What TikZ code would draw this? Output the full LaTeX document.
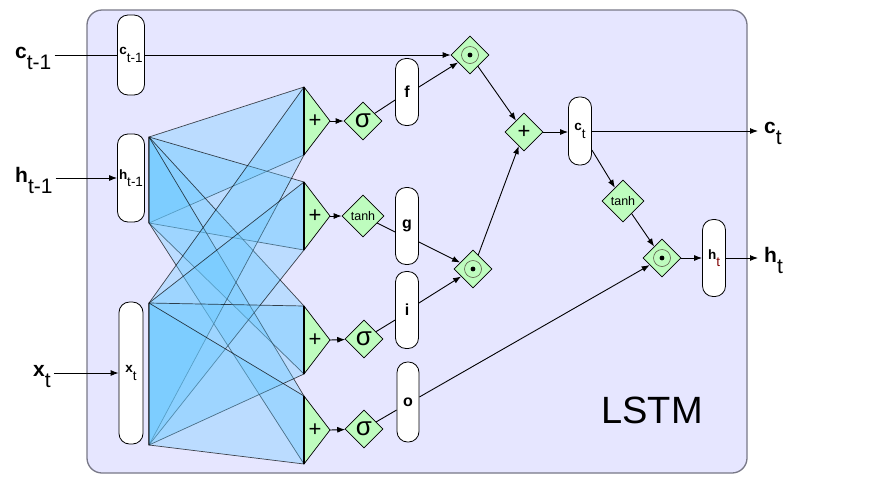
\documentclass[tikz,border=0pt]{standalone}
\usepackage{fontspec}
\setmainfont{Liberation Sans}
\usetikzlibrary{shapes.geometric,arrows.meta,calc}

\definecolor{boxfill}{RGB}{230,230,255}
\definecolor{boxline}{RGB}{120,120,135}
\definecolor{gatefill}{RGB}{190,252,190}
\definecolor{quadblue}{RGB}{100,200,255}
\definecolor{ringcol}{RGB}{90,90,70}

\newcommand{\vsub}[2]{{\bfseries #1}\raisebox{-0.55em}{#2}}

\begin{document}
\begin{tikzpicture}[x=1pt,y=-1pt,
  cellbox/.style={draw=boxline, line width=1.3pt, fill=boxfill, rounded corners=15pt, inner sep=0pt},
  pill/.style={draw=black, line width=0.8pt, fill=white, rounded corners=10.5pt, inner sep=0pt, font=\fontsize{13.5}{13.5}\selectfont},
  gatelbl/.style={draw=black, line width=0.8pt, fill=white, rounded corners=10.5pt, inner sep=0pt, font=\fontsize{16}{16}\selectfont\bfseries},
  gate/.style={diamond, aspect=1, draw=black, line width=0.7pt, fill=gatefill, inner sep=0pt, minimum width=38pt, minimum height=38pt},
  biggate/.style={gate, minimum width=42pt, minimum height=42pt},
  sig/.style={font=\fontsize{26}{26}\selectfont, inner sep=0pt},
  plusf/.style={font=\fontsize{22}{22}\selectfont, inner sep=0pt},
  tanhf/.style={font=\fontsize{12.5}{12.5}\selectfont, inner sep=0pt},
  outlbl/.style={font=\fontsize{21}{21}\selectfont, inner sep=0pt},
  quad/.style={fill=quadblue, fill opacity=0.33, draw=black, draw opacity=0.7, line width=0.7pt, line join=round},
  tri/.style={fill=gatefill, draw=black, line width=0.7pt, line join=round},
  conn/.style={line width=0.9pt},
  arr/.style={conn, -{Latex[length=8pt,width=6pt]}},
  ring/.style={draw=ringcol, line width=0.6pt}
]
\useasboundingbox (0,0) rectangle (870,483);

% outer cell
\node[cellbox, minimum width=660pt, minimum height=463pt] (cell) at (417,241.5) {};
\node[font=\fontsize{38}{38}\selectfont, inner sep=0pt] (title) at (652,410) {LSTM};

% blue weight quads
\foreach \st/\sb in {137/223, 303/445}{
  \foreach \tc in {121,216,340,430}{
    \path[quad] (149,\st) -- (304,\tc-34) -- (304,\tc+34) -- (149,\sb) -- cycle;
  }
}

% plus triangles
\foreach \c [count=\k] in {121,216,340,430}{
  \path[tri] (304,\c-34) -- (330,\c) -- (304,\c+34) -- cycle;
  \draw[line width=1.3pt] (304,\c-34) -- (304,\c+34);
  \coordinate (tip\k) at (330,\c);
  \node[plusf] (plus\k) at (315,\c) {+};
}

% outer labels
\node[outlbl, anchor=base west] (cin) at (15,58) {\vsub{c}{t-1}};
\node[outlbl, anchor=base west] (hin) at (15,182) {\vsub{h}{t-1}};
\node[outlbl, anchor=base west] (xin) at (33,376) {\vsub{x}{t}};
\node[outlbl, anchor=base west] (cout) at (764,133) {\vsub{c}{t}};
\node[outlbl, anchor=base west] (hout) at (764,262) {\vsub{h}{t}};

% pills
\node[pill, minimum width=27pt, minimum height=80pt] (cprev) at (131,55) {\vsub{c}{t-1}};
\node[pill, minimum width=27pt, minimum height=88pt] (hprev) at (131,178) {\vsub{h}{t-1}};
\node[pill, minimum width=24pt, minimum height=142pt] (xinp) at (131,373) {\vsub{x}{t}};
\node[gatelbl, minimum width=23pt, minimum height=67pt] (f) at (407,92) {f};
\node[gatelbl, minimum width=23pt, minimum height=77pt] (g) at (407,226) {g};
\node[gatelbl, minimum width=23pt, minimum height=77pt] (i) at (407,310) {i};
\node[gatelbl, minimum width=22pt, minimum height=80pt] (o) at (408,402) {o};
\node[pill, minimum width=23pt, minimum height=68pt] (ct) at (580,131) {\vsub{c}{t}};
\node[pill, minimum width=23pt, minimum height=77pt] (ht) at (714,258) {\vsub{h}{\color{red!50!black}t}};

% gates
\node[gate, label={[sig]center:σ}] (sf) at (363,121) {};
\node[biggate, label={[tanhf]center:tanh}] (tg) at (363,216) {};
\node[gate, label={[sig]center:σ}] (si) at (364,339) {};
\node[gate, label={[sig]center:σ}] (so) at (364,429) {};
\node[gate] (m1) at (470,55) {};
\node[gate, label={[plusf]center:+}] (a2) at (524,132) {};
\node[gate] (m2) at (473,269) {};
\node[biggate, label={[tanhf]center:tanh}] (t2) at (623,201) {};
\node[gate] (m3) at (662,258) {};

\foreach \n in {m1,m2,m3}{
  \draw[ring] (\n) circle (8.5pt);
  \fill (\n) circle (2.4pt);
}

% connectors
\draw[conn] ([xshift=3pt]cin.east |- cprev.west) -- (cprev.west);
\draw[arr] ([xshift=3pt]hin.east |- hprev.west) -- (hprev.west);
\draw[arr] ([xshift=3pt]xin.east |- xinp.west) -- (xinp.west);
\draw[arr] (cprev.east) -- (m1);

\draw[arr] (tip1) -- (sf);
\draw[arr] (tip2) -- (tg);
\draw[arr] (tip3) -- (si);
\draw[arr] (tip4) -- (so);

\draw[conn] (sf) -- ($(f.west)+(0,8)$);
\draw[arr] ($(f.east)+(0,-5)$) -- (m1);
\draw[conn] (tg) -- ($(g.west)+(0,6)$);
\draw[arr] ($(g.east)+(0,16)$) -- (m2);
\draw[conn] (si) -- ($(i.west)+(0,10)$);
\draw[arr] ($(i.east)+(0,-7)$) -- (m2);
\draw[conn] (so) -- ($(o.west)+(0,8)$);
\draw[arr] ($(o.east)+(0,-5)$) -- (m3);

\draw[arr] (m1) -- (a2);
\draw[arr] (m2) -- (a2);
\draw[arr] (a2.east) -- (ct.west |- a2.east);
\draw[arr] (ct.east) -- ([xshift=-6pt]cout.west |- ct.east);
\draw[arr] ($(ct.east)+(0,19)$) -- (t2);
\draw[arr] (t2) -- (m3);
\draw[arr] (m3) -- (ht);
\draw[arr] (ht.east) -- ([xshift=-6pt]hout.west |- ht.east);
\end{tikzpicture}
\end{document}
